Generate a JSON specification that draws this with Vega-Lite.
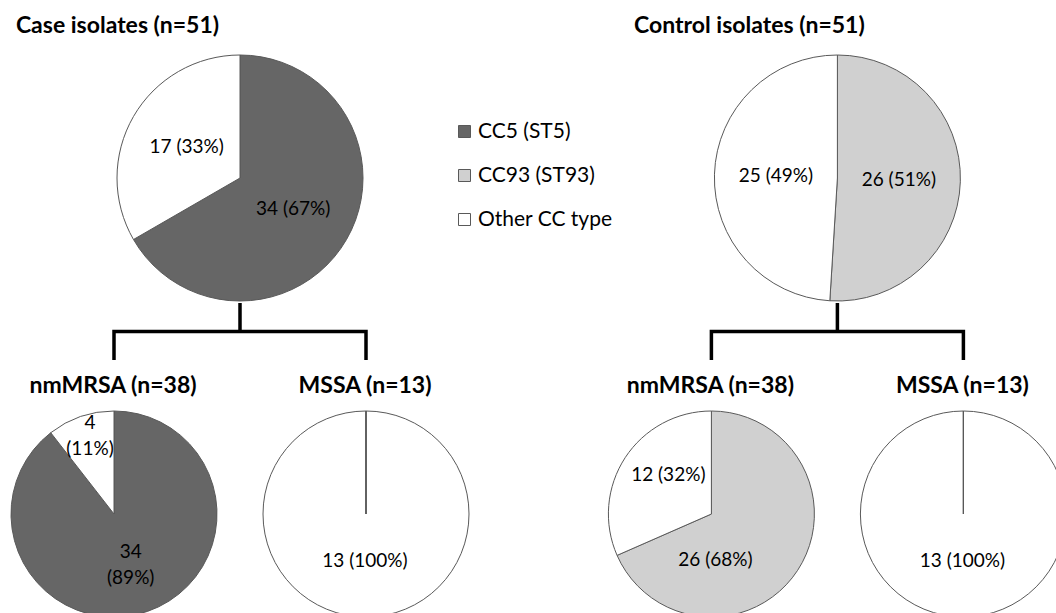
{
  "$schema": "https://vega.github.io/schema/vega-lite/v6.json",
  "width": 1056,
  "height": 613,
  "autosize": {"type": "none"},
  "padding": 0,
  "background": "white",
  "config": {"view": {"stroke": null}, "text": {"font": "Lato"}},
  "datasets": {
    "pies": [
      {"pie": "Case-All", "group": "Case", "subset": "All", "level": "top", "type": "CC5 (ST5)", "count": 34, "label": "34 (67%)"},
      {"pie": "Case-All", "group": "Case", "subset": "All", "level": "top", "type": "Other CC type", "count": 17, "label": "17 (33%)"},
      {"pie": "Control-All", "group": "Control", "subset": "All", "level": "top", "type": "CC93 (ST93)", "count": 26, "label": "26 (51%)"},
      {"pie": "Control-All", "group": "Control", "subset": "All", "level": "top", "type": "Other CC type", "count": 25, "label": "25 (49%)"},
      {"pie": "Case-nmMRSA", "group": "Case", "subset": "nmMRSA", "level": "bottom", "type": "CC5 (ST5)", "count": 34, "label": "34\n(89%)"},
      {"pie": "Case-nmMRSA", "group": "Case", "subset": "nmMRSA", "level": "bottom", "type": "Other CC type", "count": 4, "label": "4\n(11%)"},
      {"pie": "Case-MSSA", "group": "Case", "subset": "MSSA", "level": "bottom", "type": "Other CC type", "count": 13, "label": "13 (100%)"},
      {"pie": "Control-nmMRSA", "group": "Control", "subset": "nmMRSA", "level": "bottom", "type": "CC93 (ST93)", "count": 26, "label": "26 (68%)"},
      {"pie": "Control-nmMRSA", "group": "Control", "subset": "nmMRSA", "level": "bottom", "type": "Other CC type", "count": 12, "label": "12 (32%)"},
      {"pie": "Control-MSSA", "group": "Control", "subset": "MSSA", "level": "bottom", "type": "Other CC type", "count": 13, "label": "13 (100%)"},
      {"pie": "Case-MSSA", "group": "Case", "subset": "MSSA", "level": "bottom", "type": "CC5 (ST5)", "count": 0, "label": ""},
      {"pie": "Control-MSSA", "group": "Control", "subset": "MSSA", "level": "bottom", "type": "CC93 (ST93)", "count": 0, "label": ""}
    ],
    "brackets": [
      {"group": "Case", "subset": "nmMRSA", "joint": "legBottom", "step": 1},
      {"group": "Case", "subset": "nmMRSA", "joint": "bar", "step": 2},
      {"group": "Case", "subset": "All", "joint": "bar", "step": 3},
      {"group": "Case", "subset": "All", "joint": "stemTop", "step": 4},
      {"group": "Case", "subset": "All", "joint": "bar", "step": 5},
      {"group": "Case", "subset": "MSSA", "joint": "bar", "step": 6},
      {"group": "Case", "subset": "MSSA", "joint": "legBottom", "step": 7},
      {"group": "Control", "subset": "nmMRSA", "joint": "legBottom", "step": 1},
      {"group": "Control", "subset": "nmMRSA", "joint": "bar", "step": 2},
      {"group": "Control", "subset": "All", "joint": "bar", "step": 3},
      {"group": "Control", "subset": "All", "joint": "stemTop", "step": 4},
      {"group": "Control", "subset": "All", "joint": "bar", "step": 5},
      {"group": "Control", "subset": "MSSA", "joint": "bar", "step": 6},
      {"group": "Control", "subset": "MSSA", "joint": "legBottom", "step": 7}
    ],
    "titles": [
      {"group": "Case", "subset": "All", "level": "top", "title": "Case isolates (n=51)"},
      {"group": "Control", "subset": "All", "level": "top", "title": "Control isolates (n=51)"},
      {"group": "Case", "subset": "nmMRSA", "level": "bottom", "title": "nmMRSA (n=38)"},
      {"group": "Case", "subset": "MSSA", "level": "bottom", "title": "MSSA (n=13)"},
      {"group": "Control", "subset": "nmMRSA", "level": "bottom", "title": "nmMRSA (n=38)"},
      {"group": "Control", "subset": "MSSA", "level": "bottom", "title": "MSSA (n=13)"}
    ]
  },
  "resolve": {"scale": {"y": "independent", "radius": "independent", "theta": "independent"}},
  "layer": [
    {
      "data": {"name": "pies"},
      "transform": [
        {"filter": "datum.level === 'top'"},
        {"stack": "count", "groupby": ["pie"], "sort": [{"field": "type", "order": "ascending"}], "offset": "normalize", "as": ["t0", "t1"]}
      ],
      "mark": {"type": "arc", "outerRadius": 123, "stroke": "#595959", "strokeWidth": 1},
      "encoding": {
        "x": {"field": "group", "type": "nominal", "axis": null, "scale": {"type": "band", "domain": ["Case", "Control"], "range": [0, 1194.8], "paddingInner": 0, "paddingOuter": 0}},
        "xOffset": {"field": "subset", "type": "nominal", "scale": {"type": "point", "domain": ["nmMRSA", "All", "MSSA"], "range": [114, 366], "padding": 0}},
        "y": {"field": "level", "type": "nominal", "axis": null, "scale": {"type": "point", "domain": ["top", "bottom"], "range": [178, 514], "padding": 0}},
        "theta": {"field": "t0", "type": "quantitative", "stack": null, "scale": {"domain": [0, 1], "range": [0, 6.283185307]}},
        "theta2": {"field": "t1"},
        "color": {
          "field": "type", "type": "nominal",
          "scale": {"domain": ["CC5 (ST5)", "CC93 (ST93)", "Other CC type"], "range": ["#666666", "#d0d0d0", "#ffffff"]},
          "legend": {"orient": "none", "legendX": 454, "legendY": 121, "title": null, "padding": 0, "symbolType": "square", "symbolSize": 144, "symbolStrokeColor": "#808080", "symbolStrokeWidth": 1, "labelFont": "Lato", "labelFontSize": 21, "labelColor": "#000000", "labelOffset": 3, "rowPadding": 22}
        }
      }
    },
    {
      "data": {"name": "pies"},
      "transform": [
        {"filter": "datum.level === 'bottom'"},
        {"stack": "count", "groupby": ["pie"], "sort": [{"field": "type", "order": "ascending"}], "offset": "normalize", "as": ["t0", "t1"]}
      ],
      "mark": {"type": "arc", "outerRadius": 103, "stroke": "#595959", "strokeWidth": 1},
      "encoding": {
        "x": {"field": "group", "type": "nominal", "axis": null, "scale": {"type": "band", "domain": ["Case", "Control"], "range": [0, 1194.8], "paddingInner": 0, "paddingOuter": 0}},
        "xOffset": {"field": "subset", "type": "nominal", "scale": {"type": "point", "domain": ["nmMRSA", "All", "MSSA"], "range": [114, 366], "padding": 0}},
        "y": {"field": "level", "type": "nominal", "axis": null, "scale": {"type": "point", "domain": ["top", "bottom"], "range": [178, 514], "padding": 0}},
        "theta": {"field": "t0", "type": "quantitative", "stack": null, "scale": {"domain": [0, 1], "range": [0, 6.283185307]}},
        "theta2": {"field": "t1"},
        "color": {"field": "type", "type": "nominal"}
      }
    },
    {
      "data": {"name": "brackets"},
      "mark": {"type": "line", "color": "#000000", "strokeWidth": 3.5, "strokeCap": "butt", "strokeJoin": "miter"},
      "encoding": {
        "x": {"field": "group", "type": "nominal", "axis": null, "scale": {"type": "band", "domain": ["Case", "Control"], "range": [0, 1194.8], "paddingInner": 0, "paddingOuter": 0}},
        "xOffset": {"field": "subset", "type": "nominal", "scale": {"type": "point", "domain": ["nmMRSA", "All", "MSSA"], "range": [114, 366], "padding": 0}},
        "y": {"field": "joint", "type": "nominal", "axis": null, "scale": {"type": "point", "domain": ["stemTop", "bar", "legBottom"], "range": [303, 360], "padding": 0}},
        "detail": {"field": "group"},
        "order": {"field": "step", "type": "quantitative"}
      }
    },
    {
      "data": {"name": "pies"},
      "transform": [{"filter": "datum.level === 'top' && datum.count > 0"}],
      "mark": {"type": "text", "font": "Lato", "fontSize": 19, "color": "#000000", "align": "center", "baseline": "middle"},
      "encoding": {
        "x": {"field": "group", "type": "nominal", "axis": null, "scale": {"type": "band", "domain": ["Case", "Control"], "range": [0, 1194.8], "paddingInner": 0, "paddingOuter": 0}},
        "xOffset": {"field": "subset", "type": "nominal", "scale": {"type": "point", "domain": ["nmMRSA", "All", "MSSA"], "range": [114, 366], "padding": 0}},
        "y": {"field": "level", "type": "nominal", "axis": null, "scale": {"type": "point", "domain": ["top", "bottom"], "range": [178, 514], "padding": 0}},
        "theta": {"field": "count", "type": "quantitative", "stack": "normalize", "scale": {"domain": [0, 1], "range": [0, 6.283185307]}},
        "radius": {"field": "pie", "type": "nominal", "scale": {"type": "point", "range": [61.5, 61.5]}},
        "order": {"field": "type"},
        "text": {"field": "label", "type": "nominal"}
      }
    },
    {
      "data": {"name": "pies"},
      "transform": [{"filter": "datum.level === 'bottom' && datum.count > 0"}],
      "mark": {"type": "text", "font": "Lato", "fontSize": 19, "color": "#000000", "align": "center", "baseline": "middle", "lineBreak": "\n", "lineHeight": 26, "dy": -11},
      "encoding": {
        "x": {"field": "group", "type": "nominal", "axis": null, "scale": {"type": "band", "domain": ["Case", "Control"], "range": [0, 1194.8], "paddingInner": 0, "paddingOuter": 0}},
        "xOffset": {"field": "subset", "type": "nominal", "scale": {"type": "point", "domain": ["nmMRSA", "All", "MSSA"], "range": [114, 366], "padding": 0}},
        "y": {"field": "level", "type": "nominal", "axis": null, "scale": {"type": "point", "domain": ["top", "bottom"], "range": [178, 514], "padding": 0}},
        "theta": {"field": "count", "type": "quantitative", "stack": "normalize", "scale": {"domain": [0, 1], "range": [0, 6.283185307]}},
        "radius": {"field": "pie", "type": "nominal", "scale": {"type": "point", "range": [51.5, 51.5]}},
        "order": {"field": "type"},
        "text": {"condition": {"test": "datum.count === 34 || datum.count === 12", "field": "label", "type": "nominal"}, "value": ""}
      }
    },
    {
      "data": {"name": "pies"},
      "transform": [{"filter": "datum.pie === 'Case-nmMRSA' && datum.count === 4"}],
      "mark": {"type": "text", "font": "Lato", "fontSize": 19, "color": "#000000", "align": "center", "baseline": "middle", "lineBreak": "\n", "lineHeight": 26, "dx": -24, "dy": -91},
      "encoding": {
        "x": {"field": "group", "type": "nominal", "axis": null, "scale": {"type": "band", "domain": ["Case", "Control"], "range": [0, 1194.8], "paddingInner": 0, "paddingOuter": 0}},
        "xOffset": {"field": "subset", "type": "nominal", "scale": {"type": "point", "domain": ["nmMRSA", "All", "MSSA"], "range": [114, 366], "padding": 0}},
        "y": {"field": "level", "type": "nominal", "axis": null, "scale": {"type": "point", "domain": ["top", "bottom"], "range": [178, 514], "padding": 0}},
        "text": {"field": "label", "type": "nominal"}
      }
    },
    {
      "data": {"name": "pies"},
      "transform": [{"filter": "datum.pie === 'Control-nmMRSA' && datum.count === 26"}],
      "mark": {"type": "text", "font": "Lato", "fontSize": 19, "color": "#000000", "align": "center", "baseline": "middle", "dx": 4, "dy": 46},
      "encoding": {
        "x": {"field": "group", "type": "nominal", "axis": null, "scale": {"type": "band", "domain": ["Case", "Control"], "range": [0, 1194.8], "paddingInner": 0, "paddingOuter": 0}},
        "xOffset": {"field": "subset", "type": "nominal", "scale": {"type": "point", "domain": ["nmMRSA", "All", "MSSA"], "range": [114, 366], "padding": 0}},
        "y": {"field": "level", "type": "nominal", "axis": null, "scale": {"type": "point", "domain": ["top", "bottom"], "range": [178, 514], "padding": 0}},
        "text": {"field": "label", "type": "nominal"}
      }
    },
    {
      "data": {"name": "pies"},
      "transform": [{"filter": "datum.subset === 'MSSA' && datum.count > 0"}],
      "mark": {"type": "text", "font": "Lato", "fontSize": 19, "color": "#000000", "align": "center", "baseline": "middle", "dx": -1, "dy": 47},
      "encoding": {
        "x": {"field": "group", "type": "nominal", "axis": null, "scale": {"type": "band", "domain": ["Case", "Control"], "range": [0, 1194.8], "paddingInner": 0, "paddingOuter": 0}},
        "xOffset": {"field": "subset", "type": "nominal", "scale": {"type": "point", "domain": ["nmMRSA", "All", "MSSA"], "range": [114, 366], "padding": 0}},
        "y": {"field": "level", "type": "nominal", "axis": null, "scale": {"type": "point", "domain": ["top", "bottom"], "range": [178, 514], "padding": 0}},
        "text": {"field": "label", "type": "nominal"}
      }
    },
    {
      "data": {"name": "titles"},
      "transform": [{"filter": "datum.level === 'top' && datum.group === 'Case'"}],
      "mark": {"type": "text", "font": "Lato", "fontSize": 23, "fontWeight": "bold", "color": "#000000", "align": "center", "baseline": "alphabetic", "dx": -122.5, "dy": -145.3},
      "encoding": {
        "x": {"field": "group", "type": "nominal", "axis": null, "scale": {"type": "band", "domain": ["Case", "Control"], "range": [0, 1194.8], "paddingInner": 0, "paddingOuter": 0}},
        "xOffset": {"field": "subset", "type": "nominal", "scale": {"type": "point", "domain": ["nmMRSA", "All", "MSSA"], "range": [114, 366], "padding": 0}},
        "y": {"field": "level", "type": "nominal", "axis": null, "scale": {"type": "point", "domain": ["top", "bottom"], "range": [178, 514], "padding": 0}},
        "text": {"field": "title", "type": "nominal"}
      }
    },
    {
      "data": {"name": "titles"},
      "transform": [{"filter": "datum.level === 'top' && datum.group === 'Control'"}],
      "mark": {"type": "text", "font": "Lato", "fontSize": 23, "fontWeight": "bold", "color": "#000000", "align": "center", "baseline": "alphabetic", "dx": -88, "dy": -145.3},
      "encoding": {
        "x": {"field": "group", "type": "nominal", "axis": null, "scale": {"type": "band", "domain": ["Case", "Control"], "range": [0, 1194.8], "paddingInner": 0, "paddingOuter": 0}},
        "xOffset": {"field": "subset", "type": "nominal", "scale": {"type": "point", "domain": ["nmMRSA", "All", "MSSA"], "range": [114, 366], "padding": 0}},
        "y": {"field": "level", "type": "nominal", "axis": null, "scale": {"type": "point", "domain": ["top", "bottom"], "range": [178, 514], "padding": 0}},
        "text": {"field": "title", "type": "nominal"}
      }
    },
    {
      "data": {"name": "titles"},
      "transform": [{"filter": "datum.level === 'bottom'"}],
      "mark": {"type": "text", "font": "Lato", "fontSize": 23, "fontWeight": "bold", "color": "#000000", "align": "center", "baseline": "alphabetic", "dx": -1, "dy": -121.3},
      "encoding": {
        "x": {"field": "group", "type": "nominal", "axis": null, "scale": {"type": "band", "domain": ["Case", "Control"], "range": [0, 1194.8], "paddingInner": 0, "paddingOuter": 0}},
        "xOffset": {"field": "subset", "type": "nominal", "scale": {"type": "point", "domain": ["nmMRSA", "All", "MSSA"], "range": [114, 366], "padding": 0}},
        "y": {"field": "level", "type": "nominal", "axis": null, "scale": {"type": "point", "domain": ["top", "bottom"], "range": [178, 514], "padding": 0}},
        "text": {"field": "title", "type": "nominal"}
      }
    }
  ]
}
